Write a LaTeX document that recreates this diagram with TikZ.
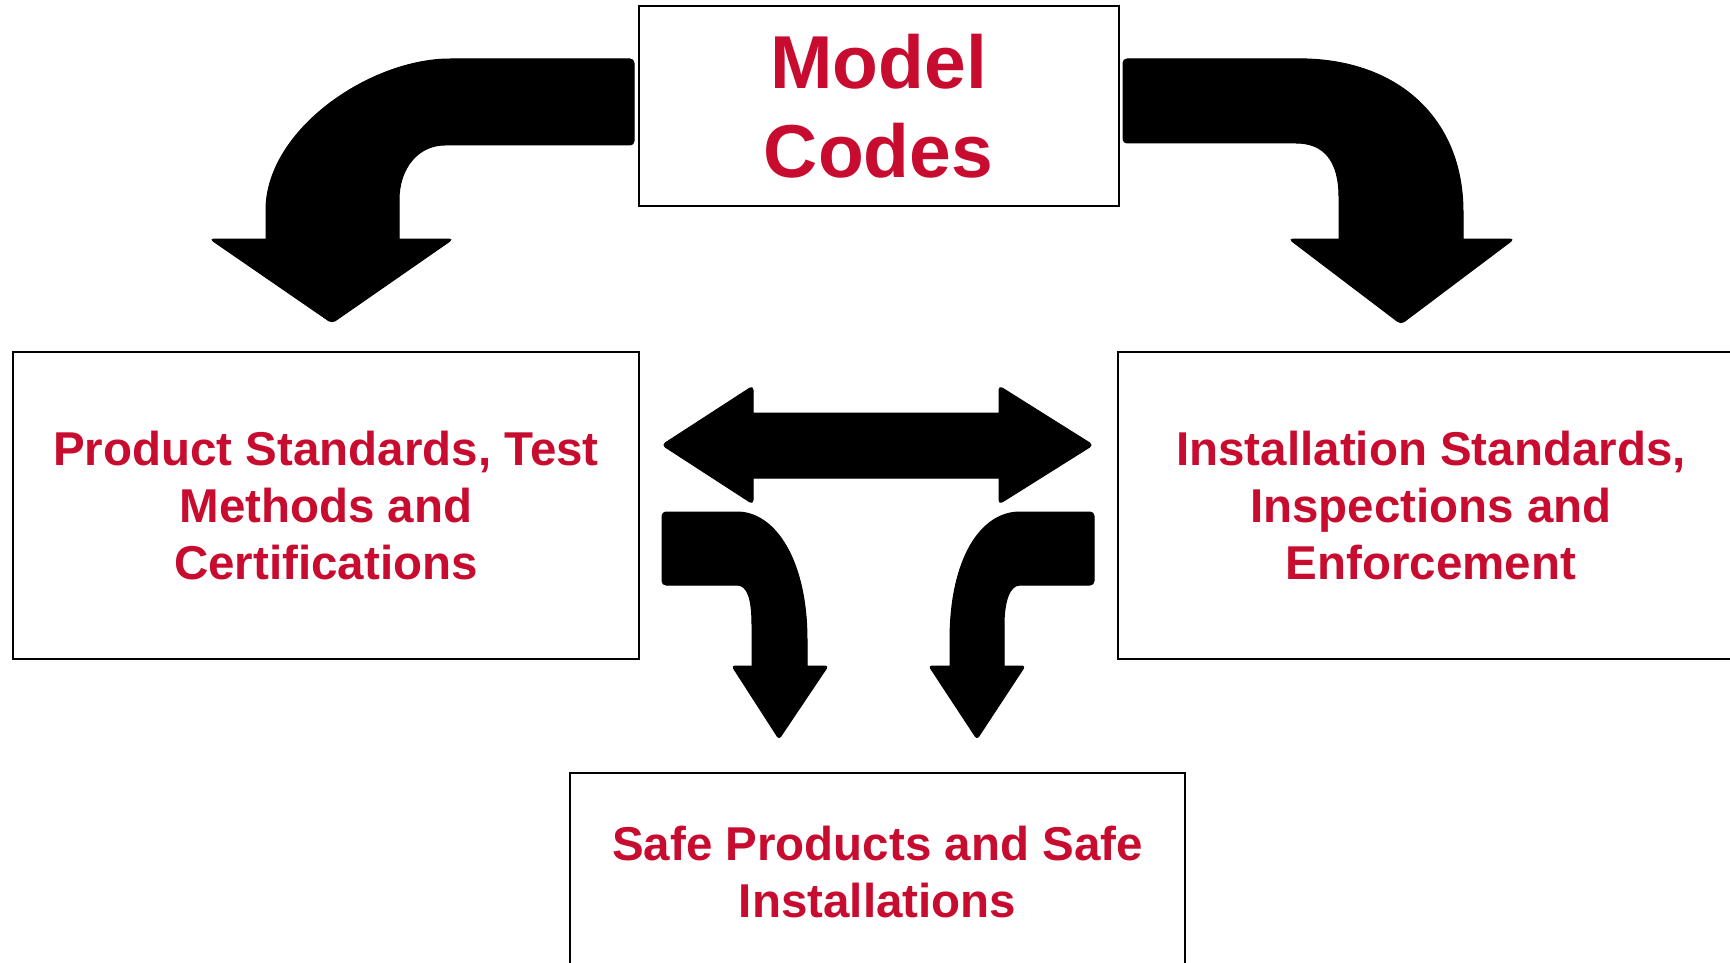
\documentclass[tikz,border=0pt]{standalone}
\usepackage{fontspec}
\setmainfont{Liberation Sans}
\definecolor{crim}{RGB}{200,12,48}
\tikzset{
  box/.style={draw=black, line width=2pt, inner sep=0pt, align=center,
    text=crim, font=\bfseries\fontsize{47.5}{57}\selectfont},
  bigbox/.style={box, font=\bfseries\fontsize{75}{89}\selectfont},
  blockarrow/.style={fill=black, draw=black, line width=1pt, line join=round}
}
\begin{document}
\begin{tikzpicture}[x=1pt,y=-1pt]
\useasboundingbox (0,0) rectangle (1730,963);
\clip (0,0) rectangle (1730,963);
\fill[white] (0,0) rectangle (1730,963);

% boxes
\node[bigbox, minimum width=480, minimum height=200] (model) at (878.5,106) {Model\\Codes};
\node[box, minimum width=626, minimum height=307] (prod) at (326,505.5) {Product Standards, Test\\Methods and\\Certifications};
\node[box, minimum width=626, minimum height=307] (inst) at (1431,505.5) {Installation Standards,\\Inspections and\\Enforcement};
\node[box, minimum width=615, minimum height=198] (safe) at (877.5,872) {Safe Products and Safe\\Installations};

% big curved arrow, left
\path[blockarrow] (450,59)
  .. controls (370,59) and (266,130) .. (266,210)
  -- (266,239) [rounded corners=4pt] -- (210,239) -- (332,323) -- (453,239) [sharp corners] -- (399,239) -- (399,200)
  .. controls (399,168) and (418,145) .. (445,145)
  [rounded corners=4pt] -- (634,145) -- (634,59) [sharp corners] -- cycle;

% big curved arrow, right
\path[blockarrow] (1307,59)
  .. controls (1400,62) and (1463,120) .. (1463,212)
  -- (1463,239) [rounded corners=4pt] -- (1514,239) -- (1401,324) -- (1289,239) [sharp corners] -- (1339,239) -- (1339,197)
  .. controls (1339,162) and (1325,143) .. (1296,143)
  [rounded corners=4pt] -- (1123,143) -- (1123,59) [sharp corners] -- cycle;

% double arrow
\path[blockarrow] (753,413) [rounded corners=4pt] -- (753,386) -- (662,445) -- (753,504) [sharp corners] -- (753,478)
  -- (999,478) [rounded corners=4pt] -- (999,504) -- (1093,445) -- (999,386) [sharp corners] -- (999,413) -- cycle;

% small curved arrow, left
\path[blockarrow] (737,512)
  .. controls (775,512) and (807,560) .. (807,640)
  -- (807,666) [rounded corners=3pt] -- (828,666) -- (779,739) -- (732,666) [sharp corners] -- (752,666) -- (752,625)
  .. controls (752,600) and (748,585) .. (737,585)
  [rounded corners=4pt] -- (662,585) -- (662,512) [sharp corners] -- cycle;

% small curved arrow, right
\path[blockarrow] (1020,512)
  .. controls (980,512) and (950,560) .. (950,640)
  -- (950,666) [rounded corners=3pt] -- (929,666) -- (977,739) -- (1025,666) [sharp corners] -- (1004,666) -- (1004,625)
  .. controls (1004,600) and (1010,585) .. (1020,585)
  [rounded corners=4pt] -- (1094,585) -- (1094,512) [sharp corners] -- cycle;
\end{tikzpicture}
\end{document}
